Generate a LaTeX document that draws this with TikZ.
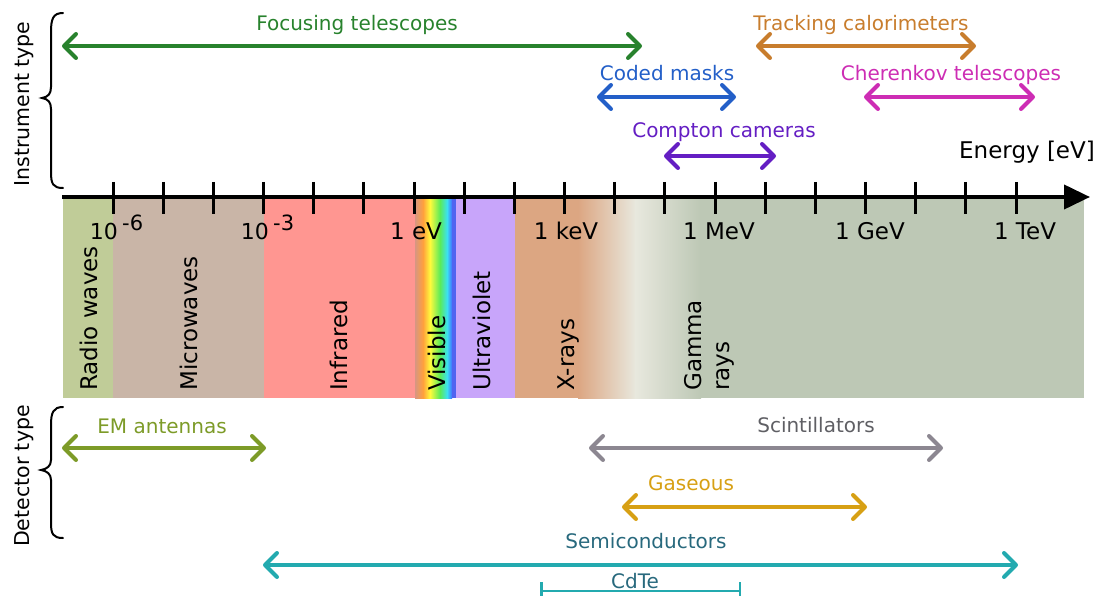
\documentclass[tikz,border=0pt]{standalone}
\usepackage{fontspec}
\setmainfont{DejaVu Sans}
\usetikzlibrary{arrows.meta}
\definecolor{cFocus}{RGB}{40,130,45}
\definecolor{cTrack}{RGB}{200,125,45}
\definecolor{cCoded}{RGB}{35,95,200}
\definecolor{cCher}{RGB}{205,45,180}
\definecolor{cCompton}{RGB}{100,30,195}
\definecolor{cEM}{RGB}{125,155,40}
\definecolor{cScint}{RGB}{140,135,145}
\definecolor{cScintT}{RGB}{95,95,100}
\definecolor{cGas}{RGB}{215,160,20}
\definecolor{cSemi}{RGB}{35,170,175}
\definecolor{cSemiT}{RGB}{40,105,125}
\definecolor{cRadio}{RGB}{192,204,152}
\definecolor{cMicro}{RGB}{201,181,167}
\definecolor{cIR}{RGB}{255,150,145}
\definecolor{cUV}{RGB}{200,165,250}
\definecolor{cXray}{RGB}{220,166,130}
\definecolor{cLight}{RGB}{232,232,222}
\definecolor{cGamma}{RGB}{189,200,181}
\definecolor{vRed}{RGB}{215,150,130}
\definecolor{vOrange}{RGB}{255,160,60}
\definecolor{vYellow}{RGB}{255,250,60}
\definecolor{vGreen}{RGB}{90,235,90}
\definecolor{vCyan}{RGB}{60,225,240}
\definecolor{vBlue}{RGB}{65,110,255}
\definecolor{vBlue2}{RGB}{80,100,240}
\begin{document}
\begin{tikzpicture}[x=1pt,y=-1pt,
  arr/.style={line width=4pt,{Straight Barb[length=12pt,width=24pt,round]}-{Straight Barb[length=12pt,width=24pt,round]}},
  lbl/.style={font=\fontsize{20}{24}\selectfont, anchor=base, inner sep=0pt},
  tlbl/.style={font=\fontsize{23}{27}\selectfont, anchor=base, inner sep=0pt},
  tenlbl/.style={font=\fontsize{22}{26}\selectfont, anchor=base east, inner sep=0pt},
  explbl/.style={font=\fontsize{21}{25}\selectfont, anchor=base west, inner sep=0pt},
  blbl/.style={font=\fontsize{23}{27}\selectfont, rotate=90, anchor=base west, inner sep=0pt},
  sidelbl/.style={font=\fontsize{20.5}{24}\selectfont, rotate=90, anchor=base, inner sep=0pt},
  tickln/.style={line width=3pt, black},
  bracestyle/.style={line width=2pt, black, line cap=round}]
\useasboundingbox (0,0) rectangle (1103,596);

% spectrum bands
\fill[cRadio] (63,199) rectangle (113,398);
\fill[cMicro] (113,199) rectangle (264,398);
\fill[cIR] (264,199) rectangle (415,398);
\shade[left color=vRed, right color=vOrange] (415,199) rectangle (423,398);
\shade[left color=vOrange, right color=vYellow] (423,199) rectangle (430,398);
\shade[left color=vYellow, right color=vGreen] (430,199) rectangle (440,398);
\shade[left color=vGreen, right color=vCyan] (440,199) rectangle (447,398);
\shade[left color=vCyan, right color=vBlue] (447,199) rectangle (452,398);
\fill[vBlue2] (452,199) rectangle (456,398);
\fill[cUV] (456,199) rectangle (515,398);
\fill[cXray] (515,199) rectangle (579,398);
\shade[left color=cXray, right color=cLight] (578,199) rectangle (636,398);
\shade[left color=cLight, right color=cGamma] (635,199) rectangle (701,398);
\fill[cGamma] (700,199) rectangle (1084,398);

% band labels
\node[blbl] (radio) at (97,391) {Radio waves};
\node[blbl] (micro) at (197,391) {Microwaves};
\node[blbl] (ir) at (347,391) {Infrared};
\node[blbl] (vis) at (445,391) {Visible};
\node[blbl] (uv) at (490,391) {Ultraviolet};
\node[blbl] (xr) at (574,391) {X-rays};
\node[blbl] (gam) at (701,391) {Gamma};
\node[blbl] (rays) at (729,391) {rays};

% axis
\coordinate (ax0) at (62,197);
\coordinate (ax1) at (1090,197);
\draw[line width=4pt, -{Triangle[length=26pt,width=24pt]}] (ax0) -- (ax1);
\foreach \k in {0,...,18} \draw[tickln] ({113+50.17*\k},182) -- ({113+50.17*\k},214);

% tick labels
\node[tenlbl] (e6) at (118,240) {10};
\node[explbl] (e6x) at (122,230) {-6};
\node[tenlbl] (e3) at (269,240) {10};
\node[explbl] (e3x) at (273,230) {-3};
\node[tlbl] (eV) at (416,240) {1 eV};
\node[tlbl] (keV) at (566,240) {1 keV};
\node[tlbl] (MeV) at (719,240) {1 MeV};
\node[tlbl] (GeV) at (870,240) {1 GeV};
\node[tlbl] (TeV) at (1025,240) {1 TeV};
\node[tlbl] (energy) at (1027,159) {Energy [eV]};

% side labels and braces
\node[sidelbl] (inst) at (29,104) {Instrument type};
\node[sidelbl] (det) at (29,476) {Detector type};
\draw[bracestyle] (63,13) .. controls (53,13) and (51,19) .. (51,32) -- (51,87) .. controls (51,94) and (48,97) .. (42,98) .. controls (48,99) and (51,102) .. (51,109) -- (51,172) .. controls (51,184) and (53,188) .. (63,188);
\draw[bracestyle] (63,407) .. controls (53,407) and (51,413) .. (51,425) -- (51,460) .. controls (51,466) and (47,469) .. (41,470) .. controls (47,471) and (51,474) .. (51,480) -- (51,523) .. controls (51,534) and (53,538) .. (63,538);

% instrument arrows
\coordinate (f1) at (62,46); \coordinate (f2) at (642,46);
\draw[arr, cFocus] (f1) -- (f2);
\node[lbl, text=cFocus] (flbl) at (357,31) {Focusing telescopes};
\coordinate (t1) at (756,46); \coordinate (t2) at (976,46);
\draw[arr, cTrack] (t1) -- (t2);
\node[lbl, text=cTrack] (tlb) at (861,31) {Tracking calorimeters};
\coordinate (c1) at (597,97); \coordinate (c2) at (736,97);
\draw[arr, cCoded] (c1) -- (c2);
\node[lbl, text=cCoded] (clbl) at (667,81) {Coded masks};
\coordinate (k1) at (864,97); \coordinate (k2) at (1035,97);
\draw[arr, cCher] (k1) -- (k2);
\node[lbl, text=cCher] (klbl) at (951,81) {Cherenkov telescopes};
\coordinate (p1) at (664,156); \coordinate (p2) at (776,156);
\draw[arr, cCompton] (p1) -- (p2);
\node[lbl, text=cCompton] (plbl) at (724,138) {Compton cameras};

% detector arrows
\coordinate (m1) at (62,448); \coordinate (m2) at (266,448);
\draw[arr, cEM] (m1) -- (m2);
\node[lbl, text=cEM] (mlbl) at (162,433) {EM antennas};
\coordinate (s1) at (589,448); \coordinate (s2) at (943,448);
\draw[arr, cScint] (s1) -- (s2);
\node[lbl, text=cScintT] (slbl) at (816,432) {Scintillators};
\coordinate (g1) at (622,507); \coordinate (g2) at (867,507);
\draw[arr, cGas] (g1) -- (g2);
\node[lbl, text=cGas] (glbl) at (691,490) {Gaseous};
\coordinate (u1) at (263,565); \coordinate (u2) at (1018,565);
\draw[arr, cSemi] (u1) -- (u2);
\node[lbl, text=cSemiT] (ulbl) at (646,548) {Semiconductors};
\coordinate (d1) at (540,591); \coordinate (d2) at (741,591);
\draw[line width=2.5pt, cSemi, {Bar[width=18pt,line width=2.5pt]}-{Bar[width=18pt,line width=2.5pt]}] (d1) -- (d2);
\node[lbl, text=cSemiT] (dlbl) at (635,588) {CdTe};
\end{tikzpicture}
\end{document}
